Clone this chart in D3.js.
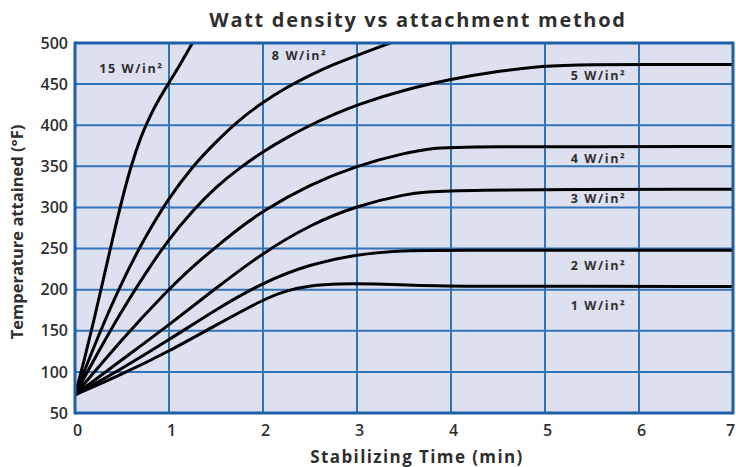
<!DOCTYPE html>
<html>
<head>
<meta charset="utf-8">
<script src="https://cdn.jsdelivr.net/npm/d3@7"></script>
<style>
  html, body { margin: 0; padding: 0; background: #ffffff; }
  svg { display: block; }
  text { font-family: "Open Sans", "DejaVu Sans", sans-serif; fill: #2f2f2f; }
</style>
</head>
<body>
<svg id="chart" width="736" height="467"></svg>
<script>
// ---- data ----
const title = "Watt density vs attachment method";
const xTitle = "Stabilizing Time (min)";
const yTitle = "Temperature attained (°F)";
const xTicks = [0, 1, 2, 3, 4, 5, 6, 7];
const yTicks = [50, 100, 150, 200, 250, 300, 350, 400, 450, 500];

const seriesNames = ["15 W/in²", "8 W/in²", "5 W/in²", "4 W/in²", "3 W/in²", "2 W/in²", "1 W/in²"];

const t15 = [0, 0.1, 0.2, 0.3, 0.4, 0.5, 0.6, 0.7, 0.8, 0.9, 1.0, 1.1, 1.25];
const v15 = [72, 115, 162, 212, 262, 310, 352, 386, 412, 433, 452, 470, 500];

const t8 = [0, 0.25, 0.5, 0.75, 1.0, 1.25, 1.5, 1.75, 2.0, 2.25, 2.5, 2.75, 3.0, 3.35];
const v8 = [72, 145, 210, 265, 312, 350, 380, 407, 428, 446, 461, 474, 485, 500];

const t5 = [0, 0.25, 0.5, 0.75, 1.0, 1.25, 1.5, 1.75, 2.0, 2.25, 2.5, 2.75, 3.0, 3.5, 4.0, 4.5, 5.0, 5.3, 7];
const v5 = [72, 125, 175, 220, 262, 296, 325, 348, 368, 385, 400, 413, 425, 443, 456, 466, 472, 474, 474];

const t4 = [0, 0.5, 1.0, 1.25, 1.5, 1.75, 2.0, 2.5, 3.0, 3.5, 3.8, 4.1, 7];
const v4 = [72, 140, 201, 228, 252, 275, 296, 328, 351, 366, 372, 374, 374];

const t3 = [0, 0.5, 1.0, 1.5, 2.0, 2.5, 3.0, 3.5, 3.9, 7];
const v3 = [72, 115, 157, 202, 245, 279, 302, 316, 322, 322];

const t2 = [0, 0.5, 1.0, 1.5, 2.0, 2.5, 3.0, 3.4, 3.7, 7];
const v2 = [72, 104, 139, 176, 209, 231, 243, 247, 248, 248];

const t1 = [0, 0.5, 1.0, 1.5, 2.0, 2.25, 2.5, 2.8, 3.2, 3.6, 4.0, 7];
const v1 = [72, 97, 125, 157, 188, 199, 205, 207.5, 207, 205.5, 204, 204];

// label anchors in data units
const labelT = [0.6, 2.39, 5.57, 5.57, 5.57, 5.57, 5.57];
const labelV = [469, 485, 461, 360, 311, 230, 181];

// ---- build ----
const seriesT = [t15, t8, t5, t4, t3, t2, t1];
const seriesV = [v15, v8, v5, v4, v3, v2, v1];
const series = seriesNames.map((name, i) => ({
  name,
  points: seriesT[i].map((t, j) => ({ t, v: seriesV[i][j] }))
}));

const svg = d3.select("#chart");
const x = d3.scaleLinear().domain([0, 7]).range([75, 733]);
const y = d3.scaleLinear().domain([50, 500]).range([413, 43]);

// plot background
svg.append("rect")
  .attr("x", x(0)).attr("y", y(500))
  .attr("width", x(7) - x(0)).attr("height", y(50) - y(500))
  .attr("fill", "#dde0ef");

// grid
const grid = svg.append("g").attr("stroke", "#3573b9").attr("stroke-width", 2);
grid.selectAll("line.v").data(xTicks.slice(1, -1)).join("line")
  .attr("x1", d => x(d)).attr("x2", d => x(d))
  .attr("y1", y(500)).attr("y2", y(50));
grid.selectAll("line.h").data(yTicks.slice(1, -1)).join("line")
  .attr("x1", x(0)).attr("x2", x(7))
  .attr("y1", d => y(d)).attr("y2", d => y(d));

// curves
svg.append("clipPath").attr("id", "clip")
  .append("rect").attr("x", x(0)).attr("y", y(500))
  .attr("width", x(7) - x(0)).attr("height", y(50) - y(500));

const line = d3.line().x(d => x(d.t)).y(d => y(d.v)).curve(d3.curveBasis);
svg.append("g").attr("clip-path", "url(#clip)")
  .selectAll("path").data(series).join("path")
  .attr("d", d => line(d.points))
  .attr("fill", "none").attr("stroke", "#000").attr("stroke-width", 3)
  .attr("stroke-linecap", "round");

// frame
svg.append("rect")
  .attr("x", x(0)).attr("y", y(500))
  .attr("width", x(7) - x(0)).attr("height", y(50) - y(500))
  .attr("fill", "none").attr("stroke", "#1e5fa9").attr("stroke-width", 3);

// axes
const xAxis = svg.append("g").attr("transform", `translate(0,${y(50)})`)
  .call(d3.axisBottom(x).tickValues(xTicks).tickSize(0).tickPadding(12).tickFormat(d3.format("d")));
xAxis.select(".domain").remove();
xAxis.selectAll("text").attr("font-size", 16).attr("font-weight", 600)
  .style("font-family", "'Open Sans', sans-serif").attr("fill", "#2f2f2f")
  .attr("dx", d => d === 7 ? -3 : 2);

const yAxis = svg.append("g").attr("transform", `translate(${x(0)},0)`)
  .call(d3.axisLeft(y).tickValues(yTicks).tickSize(0).tickPadding(7).tickFormat(d3.format("d")));
yAxis.select(".domain").remove();
yAxis.selectAll("text").attr("font-size", 16).attr("font-weight", 600)
  .style("font-family", "'Open Sans', sans-serif").attr("fill", "#2f2f2f");

// series labels
svg.append("g").selectAll("text").data(seriesNames).join("text")
  .attr("x", (d, i) => x(labelT[i]))
  .attr("y", (d, i) => y(labelV[i]))
  .attr("text-anchor", "middle").attr("dominant-baseline", "central")
  .attr("font-size", 12.5).attr("font-weight", 700)
  .attr("letter-spacing", 1.6)
  .text(d => d);

// titles
svg.append("text").attr("x", 418).attr("y", 27)
  .attr("text-anchor", "middle").attr("font-size", 20).attr("font-weight", 700)
  .attr("letter-spacing", 1.7)
  .text(title);

svg.append("text").attr("x", 417).attr("y", 463)
  .attr("text-anchor", "middle").attr("font-size", 17).attr("font-weight", 700)
  .attr("letter-spacing", 1.4)
  .text(xTitle);

svg.append("text")
  .attr("transform", `translate(23,${(y(500) + y(50)) / 2 + 4}) rotate(-90)`)
  .attr("text-anchor", "middle").attr("font-size", 16.5).attr("font-weight", 700)
  .attr("letter-spacing", 0)
  .text(yTitle);
</script>
</body>
</html>
